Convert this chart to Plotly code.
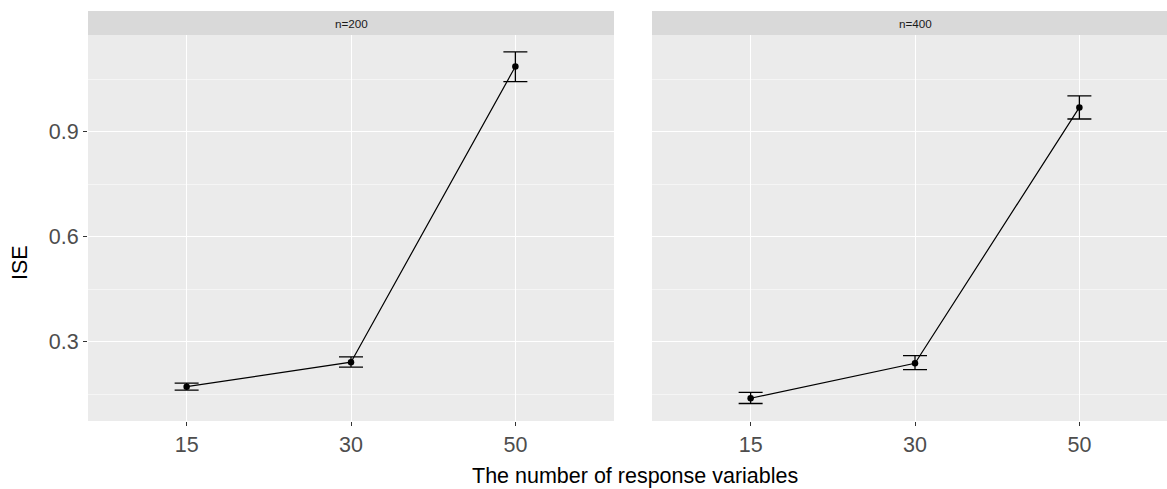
import plotly.graph_objects as go
from plotly.subplots import make_subplots

categories = ["15", "30", "50"]
panels = ["n=200", "n=400"]
ise_n200 = [0.171, 0.241, 1.086]
lower_n200 = [0.161, 0.227, 1.043]
upper_n200 = [0.181, 0.256, 1.128]
ise_n400 = [0.138, 0.238, 0.969]
lower_n400 = [0.123, 0.220, 0.936]
upper_n400 = [0.155, 0.260, 1.002]

series = [
    (ise_n200, lower_n200, upper_n200),
    (ise_n400, lower_n400, upper_n400),
]

FONT = "Liberation Sans, Arial, sans-serif"
W, H = 1167, 489
ML, MR, MT, MB = 88, 0, 11, 68
PW = W - ML - MR
PH = H - MT - MB

fig = make_subplots(rows=1, cols=2, shared_yaxes=True)

xpos = list(range(1, len(categories) + 1))
for i, (m, lo, hi) in enumerate(series):
    fig.add_trace(
        go.Scatter(
            x=xpos, y=m, mode="lines+markers",
            line=dict(color="black", width=1.2),
            marker=dict(color="black", size=6.5),
            error_y=dict(
                type="data", symmetric=False,
                array=[h - v for h, v in zip(hi, m)],
                arrayminus=[v - l for v, l in zip(m, lo)],
                color="black", thickness=1.3, width=12,
            ),
            showlegend=False,
        ),
        row=1, col=i + 1,
    )

ydom = [0, (421 - 35) / PH]
left_dom = [0, (614 - ML) / PW]
right_dom = [(652 - ML) / PW, 1.0]
right_range_max = 0.4 + (W - 652) / (526 / 3.2)

common_x = dict(
    tickmode="array", tickvals=xpos, ticktext=categories,
    showgrid=True, gridcolor="white", gridwidth=1.1,
    ticks="outside", ticklen=4, tickcolor="#333333", tickwidth=1,
    tickfont=dict(family=FONT, size=21.5, color="#4D4D4D"),
    zeroline=False, showline=False,
)
fig.update_xaxes(**common_x)
fig.update_xaxes(domain=left_dom, range=[0.4, 3.6], row=1, col=1)
fig.update_xaxes(domain=right_dom, range=[0.4, right_range_max], row=1, col=2)

fig.update_yaxes(
    range=[0.073, 1.176], domain=ydom,
    tickmode="array", tickvals=[0.3, 0.6, 0.9], ticktext=["0.3", "0.6", "0.9"],
    showgrid=True, gridcolor="white", gridwidth=1.1,
    minor=dict(tickvals=[0.15, 0.45, 0.75, 1.05], showgrid=True,
               gridcolor="#F5F5F5", gridwidth=0.6, ticks=""),
    zeroline=False, showline=False,
)
fig.update_yaxes(
    ticks="outside", ticklen=4, tickcolor="#333333", tickwidth=1,
    tickfont=dict(family=FONT, size=21.5, color="#4D4D4D"),
    row=1, col=1,
)
fig.update_yaxes(ticks="", showticklabels=False, row=1, col=2)

# facet strips
strip_centers = [
    (left_dom[0] + left_dom[1]) / 2,
    (652 + 526 / 2 - ML) / PW,
]
for dom, label, cx in zip([left_dom, right_dom], panels, strip_centers):
    fig.add_shape(type="rect", xref="paper", yref="paper",
                  x0=dom[0], x1=dom[1], y0=ydom[1], y1=1.0,
                  fillcolor="#D9D9D9", line=dict(width=0), layer="below")
    fig.add_annotation(text=label, xref="paper", yref="paper",
                       x=cx, y=(ydom[1] + 1) / 2, showarrow=False,
                       xanchor="center", yanchor="middle",
                       font=dict(family=FONT, size=11.7, color="#1A1A1A"))

fig.add_annotation(text="The number of response variables", xref="paper", yref="paper",
                   x=(635 - ML) / PW, y=-(476 - 421) / PH, showarrow=False,
                   xanchor="center", yanchor="middle",
                   font=dict(family=FONT, size=21.5, color="black"))
fig.add_annotation(text="ISE", xref="paper", yref="paper", textangle=-90,
                   x=(20 - ML) / PW, y=(421 - 263) / PH, showarrow=False,
                   xanchor="center", yanchor="middle",
                   font=dict(family=FONT, size=21.5, color="black"))

fig.update_layout(
    width=W, height=H,
    margin=dict(l=ML, r=MR, t=MT, b=MB),
    paper_bgcolor="white", plot_bgcolor="#EBEBEB",
    font=dict(family=FONT),
)

fig.write_html(
    "out.html",
    config={"displayModeBar": False},
    post_script="document.body.style.margin='0';document.body.style.overflow='hidden';",
)
